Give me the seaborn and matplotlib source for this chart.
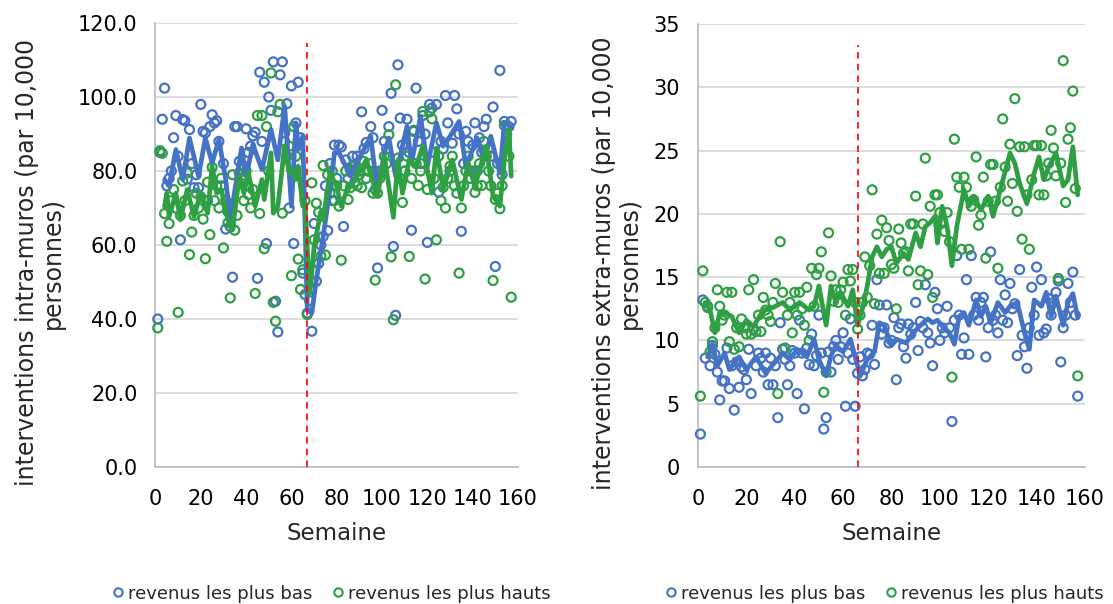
import numpy as np
import pandas as pd
import matplotlib
matplotlib.use("Agg")
import matplotlib.pyplot as plt
import seaborn as sns
from matplotlib.lines import Line2D

# ---------------- data ----------------
weeks = list(range(1, 158))

# left panel: intra-muros, weekly points
intra_low = [40, 85, 94, 102.4, 76, 78, 80, 89, 95, 84,
             61.4, 93.9, 93.6, 77.8, 91.2, 82, 75.5, 79, 75.5, 98,
             90.7, 90.3, 72, 92, 95.2, 93, 93.6, 88, 76, 82,
             64.3, 69, 65, 51.3, 92, 92, 82.6, 78, 81.3, 91.4,
             85, 86.7, 89.5, 90.5, 51, 106.7, 88, 104, 60.4, 100,
             96.4, 109.5, 44.8, 36.5, 106, 109.5, 90.3, 98.2, 70, 103,
             60.4, 93, 104, 89, 52.4, 46.6, 41.6, 48, 36.7, 65.8,
             50.2, 55, 60, 62.3, 76, 63.9, 82, 72, 87, 78,
             87, 86.5, 65, 83, 78, 80.4, 84, 77, 84, 80,
             96, 86, 87.7, 80, 92, 89, 75, 53.8, 80, 96.4,
             88, 86, 92, 101, 59.6, 41, 108.7, 94.3, 87, 80,
             94, 85, 64, 91, 102.4, 88, 82, 95, 90, 60.7,
             98, 97, 85, 98, 74.3, 88, 86, 100.4, 93, 80,
             87.5, 100.4, 96.8, 90, 63.7, 82, 90.7, 88, 80, 87,
             93, 80, 89, 85, 92, 94, 86, 84, 97.3, 54.2,
             82, 107.2, 79, 93.4, 88, 92, 93.4]
intra_high = [37.6, 85.5, 84.8, 68.5, 61, 65.8, 72, 75, 70, 41.8,
              68, 77.3, 72, 79.5, 57.4, 63.5, 68, 74, 70, 73,
              67, 56.3, 77, 62.8, 81, 72, 76, 70, 78, 59.2,
              72, 66, 45.7, 79, 64, 68, 79.5, 76.6, 72, 80,
              73.6, 70, 75, 46.9, 95, 68.5, 95, 59, 92, 80,
              106.5, 44.5, 39.4, 96, 98, 68.6, 88, 84, 86.7, 51.7,
              92, 84, 56.2, 48, 53.3, 72, 41.2, 45, 76.8, 61.4,
              71.3, 68.8, 57, 81.5, 57.3, 79, 74, 80, 72, 76,
              70.5, 55.9, 76, 80, 72.3, 75.5, 80, 81.3, 76, 79,
              75.5, 82.6, 78, 80, 82, 74, 50.5, 74, 78, 80,
              84, 82, 89.8, 56.8, 39.8, 103.3, 83.5, 78, 71.5, 80,
              84, 56.9, 78, 90.7, 82, 76.1, 80, 96.1, 50.8, 75,
              96, 94.1, 78, 61.4, 84, 72, 75.6, 70, 78, 81.3,
              84, 76, 74, 52.4, 70, 76, 80, 84, 78, 80,
              74.2, 76, 82, 76.1, 88, 84, 80, 76, 50.4, 72.3,
              74, 69.8, 76, 92.3, 89.8, 84, 45.9]

# moving-average lines (vertices)
intra_low_ma_w = [4, 6, 9, 12, 15, 19, 22, 25, 28, 31, 33, 36, 38, 40, 43, 47, 51, 54, 57, 60,
                  62, 63, 65, 67, 69, 71, 74, 77, 79, 81, 84, 86, 88, 92, 95, 98, 101, 103, 106, 109,
                  111, 113, 117, 120, 124, 127, 130, 134, 137, 142, 145, 148, 152, 154, 157]
intra_low_ma = [77.7, 75.9, 85.8, 77.7, 88.9, 78.6, 88.9, 82.2, 88.5, 77.7, 66.8, 78.6, 86.2, 78.6, 87.1,
                80.4, 91.2, 83, 97.5, 70.5, 93, 85.8, 89.4, 42.5, 41.6, 50.6, 62.3, 75, 84.9, 84.9,
                81.3, 78.6, 81.3, 85.8, 89.4, 74.1, 84.9, 88.9, 78.6, 86.7, 92, 82.2, 94.8, 81.3, 93,
                86.7, 89.4, 93.4, 81.3, 88.9, 83, 89.4, 79.5, 93, 92]
intra_high_ma_w = [4, 5, 6, 9, 11, 14, 17, 20, 23, 25, 27, 29, 32, 34, 37, 39, 41, 44, 47, 48,
                   51, 52, 54, 56, 57, 59, 60, 62, 63, 65, 66, 68, 69, 70, 73, 74, 77, 80, 82, 84,
                   89, 93, 98, 101, 105, 107, 109, 112, 115, 118, 122, 124, 127, 131, 135, 138, 141, 146, 149, 152,
                   154, 156, 157]
intra_high_ma = [70.5, 74, 67.7, 74, 66.8, 75, 67.7, 74, 68.6, 81.3, 74, 75, 66.8, 64.1, 78.6, 74, 79.5,
                 70.5, 77.7, 72.3, 84.9, 68.6, 70.5, 81.3, 86.7, 79.5, 80.4, 77.7, 81.3, 70.5, 71.4, 47,
                 52.4, 59.6, 69.1, 66.8, 79.5, 75.9, 70.5, 74, 78.6, 83, 73.2, 84, 67.5, 83, 74, 83,
                 81.3, 86.7, 74, 86.2, 75, 83, 72.3, 82.2, 75.9, 86.7, 73.2, 70.5, 83, 91.2, 78.6]

# right panel: extra-muros, weekly points
extra_low = [2.6, 13.2, 8.6, 12.7, 8.0, 9.6, 8.9, 7.5, 5.3, 6.8,
             6.8, 9.4, 6.2, 8, 4.5, 8.3, 6.3, 7.9, 7.7, 6.9,
             9.3, 5.8, 10.9, 8, 9, 8.6, 7.5, 9.0, 6.5, 8.6,
             6.5, 8, 3.9, 11.4, 9.3, 8.5, 6.5, 8, 9.2, 9,
             5.8, 11.6, 9, 4.6, 9.4, 8.1, 10.5, 8.0, 8.8, 12,
             9, 3.0, 3.9, 9.1, 7.5, 9.5, 10, 8.5, 9.5, 10.6,
             4.8, 9, 11.7, 8.5, 4.8, 7.4, 8.7, 7.2, 7.7, 9,
             8.9, 11.2, 8.1, 14.8, 12.8, 10.5, 11, 12.8, 9.8, 10,
             11.8, 6.9, 11, 11.3, 9.5, 8.6, 11.3, 10.5, 11, 13.0,
             9.2, 11.5, 11, 14.4, 10.6, 9.8, 8.0, 13.8, 12.5, 10,
             11, 10.6, 12.7, 11, 3.6, 11.6, 16.7, 12, 8.9, 10.2,
             14.8, 8.9, 16.7, 12, 13.4, 11.6, 13, 13.4, 8.7, 11,
             17.0, 11.6, 12, 10.6, 14.8, 11.6, 13.6, 11.4, 14.5, 12.5,
             12.9, 8.8, 15.6, 10.4, 9.5, 7.8, 11, 14.2, 12, 15.8,
             10.4, 14.8, 10.6, 10.9, 13.3, 12, 13, 13.8, 14.7, 8.3,
             11, 12, 14.5, 13, 15.4, 12, 5.6]
extra_high = [5.6, 15.5, 13, 12.6, 9.1, 9.9, 11, 14, 12.7, 11.6,
              12, 13.8, 9.9, 13.8, 9.3, 11, 9.5, 11.7, 11, 10.5,
              14, 10.5, 14.8, 10.7, 12, 10.7, 13.4, 12.4, 12, 11.5,
              13, 14.5, 5.8, 17.8, 13.8, 9.4, 12, 13, 10.6, 13.8,
              12, 13.8, 12.5, 11.2, 14.2, 10, 15.7, 12.7, 15.2, 15.7,
              17, 5.9, 7.5, 18.5, 15.1, 13.1, 14, 13, 14, 14.6,
              12, 15.6, 14.7, 15.6, 13, 10.9, 12, 13, 16.6, 13.4,
              15.9, 21.9, 12.9, 18.4, 15.3, 19.5, 15.3, 18.9, 17.9, 16,
              15.7, 12.5, 18.8, 17.7, 16.9, 17, 15.5, 19.2, 19.2, 21.4,
              14.4, 15.5, 19.2, 24.4, 15.2, 20.6, 13.4, 21.5, 21.5, 20.1,
              19.4, 18.6, 20.1, 17.8, 7.1, 25.9, 22.9, 22.1, 17.2, 22.9,
              22.1, 17.2, 20.6, 21.1, 24.5, 19.1, 19.9, 22.9, 16.5, 21,
              23.9, 23.9, 21, 15.7, 22.1, 27.5, 23.7, 21, 25.5, 22.4,
              29.1, 20.2, 25.3, 18, 25.3, 21.5, 17.2, 22.7, 25.4, 25.4,
              21.5, 25.4, 21.5, 23, 24, 26.6, 25.2, 23, 14.9, 24,
              32.1, 20.9, 25.9, 26.8, 29.7, 22, 7.2]

extra_low_ma_w = [4, 6, 8, 11, 13, 17, 20, 24, 28, 35, 38, 41, 45, 48, 50, 53, 55, 57, 60, 63,
                  66, 67, 70, 73, 75, 77, 80, 82, 86, 89, 92, 95, 97, 99, 102, 104, 106, 108, 110, 112,
                  115, 117, 119, 121, 124, 127, 129, 132, 135, 137, 139, 142, 144, 146, 148, 151, 153, 155, 157]
extra_low_ma = [8.7, 9.7, 8, 9, 7.7, 8.7, 7.7, 8.7, 7.4, 9, 8.5, 9.3, 8.7, 10.1, 8.5, 7.2, 8.8, 9.6, 9.1,
                10.1, 8, 7.2, 8.5, 9.1, 11.4, 11.2, 9.6, 10.1, 9.8, 10.6, 11.2, 11.7, 11.4, 11.6, 10.9,
                10.6, 9.7, 11.9, 12.2, 11.2, 13.2, 11.9, 12.7, 11.4, 13, 12.2, 12.7, 13, 10.6, 9.3, 13.2,
                12.7, 13.8, 11.9, 13.5, 11.2, 13, 13.7, 11.8]
extra_high_ma_w = [3, 5, 7, 9, 11, 14, 17, 20, 23, 27, 31, 35, 38, 42, 46, 48, 50, 53, 55, 57,
                   59, 62, 64, 66, 68, 70, 72, 74, 76, 78, 80, 82, 85, 87, 90, 92, 94, 96, 98, 99,
                   101, 103, 105, 107, 110, 112, 114, 117, 120, 122, 125, 129, 131, 133, 136, 139, 141, 143, 145, 148,
                   151, 153, 155, 157]
extra_high_ma = [13, 12.4, 10.6, 12.2, 12.2, 11.9, 10.6, 11.6, 11.1, 12.4, 12.6, 13, 12.4, 13, 12.4, 12.7,
                 14.3, 11.2, 14.3, 13, 13.8, 12.7, 14, 11.2, 12.5, 14.3, 16.6, 17.4, 16.6, 17.2, 17.4, 16.1,
                 16.9, 16.4, 18.5, 17.4, 19, 19.3, 19.8, 17.7, 20.6, 19, 15.9, 19, 21.9, 20.6, 21.4, 20.3,
                 21.4, 19.8, 21.9, 24.8, 24, 22.4, 20.8, 23.2, 24.5, 22.7, 23.7, 24.8, 22.2, 22.7, 25.3, 21.5]

series_names = ["revenus les plus bas", "revenus les plus hauts"]
break_week_left = 67
break_week_right = 66

# ---------------- style ----------------
sns.set_style("white")
plt.rcParams["font.family"] = ["DejaVu Sans"]
BLUE = "#4472C4"
GREEN = "#2EA043"
palette = {series_names[0]: BLUE, series_names[1]: GREEN}

fig = plt.figure(figsize=(11.13, 6.04), dpi=100)
axL = fig.add_axes([0.1397, 0.2268, 0.3257, 0.7351])
axR = fig.add_axes([0.6271, 0.2268, 0.3477, 0.7335])


def make_pts(low, high):
    return pd.DataFrame({
        "Semaine": weeks + weeks,
        "val": low + high,
        "groupe": [series_names[0]] * len(low) + [series_names[1]] * len(high),
    })


def make_lines(wl, vl, wh, vh):
    return pd.DataFrame({
        "Semaine": wl + wh,
        "val": vl + vh,
        "groupe": [series_names[0]] * len(wl) + [series_names[1]] * len(wh),
    })


def draw(ax, pts, lines, ymax, ystep, fmt, vline, vtop, ylabel, label_x):
    for g in series_names:
        sub = pts[pts.groupe == g]
        sns.scatterplot(data=sub, x="Semaine", y="val", ax=ax, marker="o",
                        s=42, facecolors="none", edgecolor=palette[g],
                        linewidth=1.6, legend=False, zorder=3, clip_on=False)
    for g in series_names:
        sub = lines[lines.groupe == g]
        sns.lineplot(data=sub, x="Semaine", y="val", ax=ax, color=palette[g],
                     linewidth=3.4, legend=False, zorder=4, sort=True,
                     estimator=None)
    ax.plot([vline, vline], [0, vtop], color="#FF0000", linestyle=(0, (4, 3)),
            linewidth=1.2, zorder=5)
    ax.set_xlim(0, 160)
    ax.set_ylim(0, ymax)
    ax.set_xticks(range(0, 161, 20))
    yt = np.arange(0, ymax + 0.001, ystep)
    ax.set_yticks(yt)
    ax.set_yticklabels([fmt.format(v) for v in yt])
    ax.yaxis.grid(True, color="#D9D9D9", linewidth=1.3)
    ax.set_axisbelow(True)
    for s in ["top", "right"]:
        ax.spines[s].set_visible(False)
    for s in ["left", "bottom"]:
        ax.spines[s].set_color("#BFBFBF")
        ax.spines[s].set_linewidth(1.3)
    ax.tick_params(axis="both", length=0, labelsize=15, colors="#000000")
    ax.tick_params(axis="x", pad=16)
    ax.tick_params(axis="y", pad=13)
    ax.set_xlabel("Semaine", fontsize=16.5, labelpad=9)
    ax.set_ylabel(ylabel, fontsize=17, linespacing=1.1)
    ax.yaxis.set_label_coords(label_x, 0.46)


draw(axL, make_pts(intra_low, intra_high),
     make_lines(intra_low_ma_w, intra_low_ma, intra_high_ma_w, intra_high_ma),
     120, 20, "{:.1f}", break_week_left, 114.5,
     "interventions intra-muros (par 10,000\npersonnes)", -0.25)
draw(axR, make_pts(extra_low, extra_high),
     make_lines(extra_low_ma_w, extra_low_ma, extra_high_ma_w, extra_high_ma),
     35, 5, "{:.0f}", break_week_right, 33.3,
     "interventions extra-muros (par 10,000\npersonnes)", -0.145)

handles = [Line2D([], [], marker="o", linestyle="none", markersize=6,
                  markerfacecolor="none", markeredgecolor=palette[g],
                  markeredgewidth=1.5) for g in series_names]
for cx in (0.2965, 0.793):
    fig.legend(handles, series_names, loc="center", bbox_to_anchor=(cx, 0.017),
               ncol=2, frameon=False, fontsize=13, handletextpad=0.05,
               columnspacing=0.9, handlelength=1.0)

fig.savefig("out.png", dpi=100)
